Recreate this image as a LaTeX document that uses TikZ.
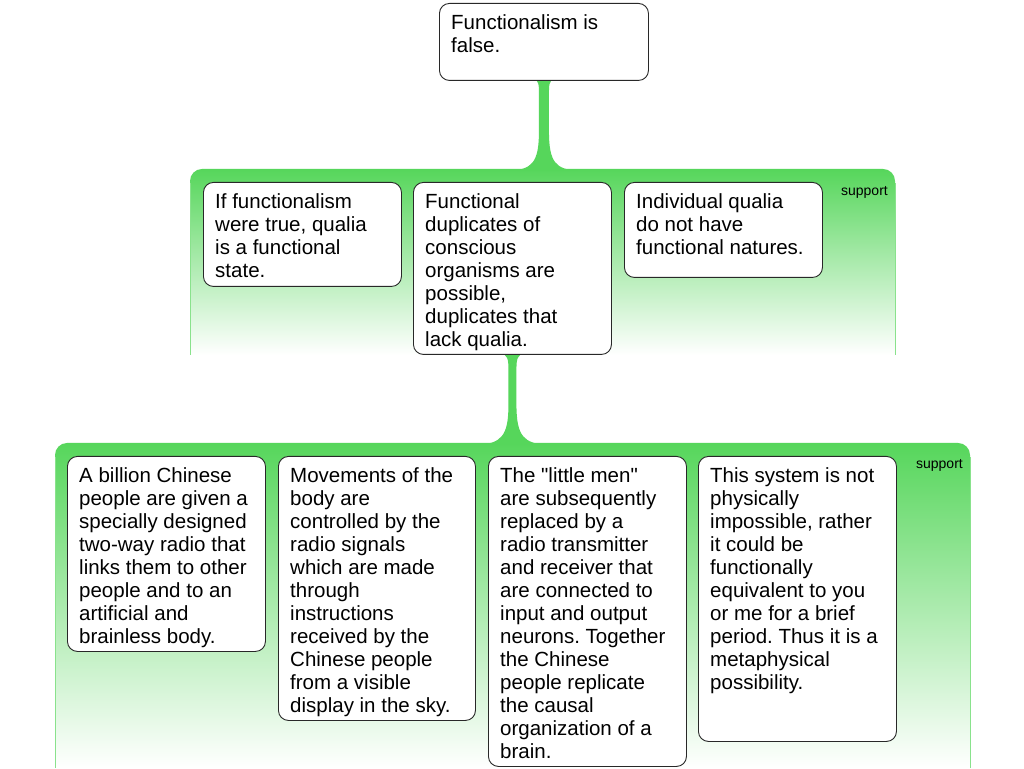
\documentclass[tikz,border=0pt]{standalone}
\usepackage{fontspec}
\setmainfont{Liberation Sans}
\usetikzlibrary{calc,backgrounds}
\definecolor{grn}{RGB}{86,214,91}
\definecolor{edge}{RGB}{40,40,40}
\tikzset{
  box/.style={draw=edge, line width=0.9pt, fill=white, rounded corners=10pt, anchor=north west, inner sep=0pt},
  txt/.style={anchor=base west, inner sep=0pt, font=\fontsize{20.5}{23}\selectfont},
  lbl/.style={anchor=base east, inner sep=0pt, font=\fontsize{14}{16}\selectfont},
  conn/.style={fill=grn},
  panelshade/.style={top color=grn, bottom color=white, middle color=grn!50},
  side/.style={draw=grn!70, line width=1pt}
}
\newcommand{\bx}[5]{% name, x, y, w, h
  \node[box, minimum width=#4pt, minimum height=#5pt] (#1) at (#2,#3) {};}
\newcommand{\tx}[3]{% name, box, text
  \node[txt] (#1) at ($(#2.north west)+(12,-27)$) {\parbox[t]{200pt}{\raggedright\frenchspacing #3}};}
\newcommand{\qq}{\XeTeXglyph\XeTeXcharglyph"22\relax}
\begin{document}
\begin{tikzpicture}[x=1pt,y=1pt]
\useasboundingbox (0,0) rectangle (1024,768);
% boxes
\bx{t}{439}{765}{209}{77}
\bx{b11}{203}{586}{198}{104}
\bx{b12}{413}{586}{198}{172}
\bx{b13}{624}{586}{198}{95}
\bx{b21}{67}{312}{198}{195}
\bx{b22}{278}{312}{197}{264}
\bx{b23}{488}{312}{198}{310}
\bx{b24}{698}{312}{198}{285}
\coordinate (p1) at (542.5,599);
\coordinate (p2) at (512,325);
\node[lbl] (s1) at (888,572) {support};
\node[lbl] (s2) at (963,299) {support};
\begin{pgfonlayer}{background}
\fill[white] (0,0) rectangle (1024,768);
% panels
\shade[panelshade]
  (190,413) -- (190,587) arc[start angle=180, end angle=90, radius=12] -- (883,599)
  arc[start angle=90, end angle=0, radius=12] -- (895,413) -- cycle;
\draw[side] (190,413) -- (190,585);
\draw[side] (895,413) -- (895,585);
\shade[panelshade]
  (55,0) -- (55,313) arc[start angle=180, end angle=90, radius=12] -- (958,325)
  arc[start angle=90, end angle=0, radius=12] -- (970,0) -- cycle;
\draw[side] (55,0) -- (55,311);
\draw[side] (970,0) -- (970,311);
% connectors
\fill[conn] let \p1=(t.south), \p2=(p1) in
  (\x1-10,\y1+2) .. controls (\x1-5,\y1) and (\x1-5,\y1-4) .. (\x1-5,\y1-14)
  -- (\x1-5,\y2+38) .. controls (\x1-5,\y2+6) and (\x1-12,\y2) .. (\x1-34,\y2-2)
  -- (\x1+34,\y2-2) .. controls (\x1+12,\y2) and (\x1+5,\y2+6) .. (\x1+5,\y2+38)
  -- (\x1+5,\y1-14) .. controls (\x1+5,\y1-4) and (\x1+5,\y1) .. (\x1+10,\y1+2) -- cycle;
\fill[conn] let \p1=(b12.south), \p2=(p2) in
  (\x1-12,\y1+2) .. controls (\x1-5,\y1) and (\x1-4,\y1-4) .. (\x1-4,\y1-14)
  -- (\x1-4,\y2+38) .. controls (\x1-4,\y2+6) and (\x1-12,\y2) .. (\x1-34,\y2-2)
  -- (\x1+34,\y2-2) .. controls (\x1+12,\y2) and (\x1+4,\y2+6) .. (\x1+4,\y2+38)
  -- (\x1+4,\y1-14) .. controls (\x1+4,\y1-4) and (\x1+5,\y1) .. (\x1+12,\y1+2) -- cycle;
\end{pgfonlayer}
% texts
\tx{tt}{t}{Functionalism is\\false.}
\tx{t11}{b11}{If functionalism\\were true, qualia\\is a functional\\state.}
\tx{t12}{b12}{Functional\\duplicates of\\conscious\\organisms are\\possible,\\duplicates that\\lack qualia.}
\tx{t13}{b13}{Individual qualia\\do not have\\functional natures.}
\tx{t21}{b21}{A billion Chinese\\people are given a\\specially designed\\two-way radio that\\links them to other\\people and to an\\artificial and\\brainless body.}
\tx{t22}{b22}{Movements of the\\body are\\controlled by the\\radio signals\\which are made\\through\\instructions\\received by the\\Chinese people\\from a visible\\display in the sky.}
\tx{t23}{b23}{The \qq little men\qq\\are subsequently\\replaced by a\\radio transmitter\\and receiver that\\are connected to\\input and output\\neurons. Together\\the Chinese\\people replicate\\the causal\\organization of a\\brain.}
\tx{t24}{b24}{This system is not\\physically\\impossible, rather\\it could be\\functionally\\equivalent to you\\or me for a brief\\period. Thus it is a\\metaphysical\\possibility.}
\end{tikzpicture}
\end{document}
